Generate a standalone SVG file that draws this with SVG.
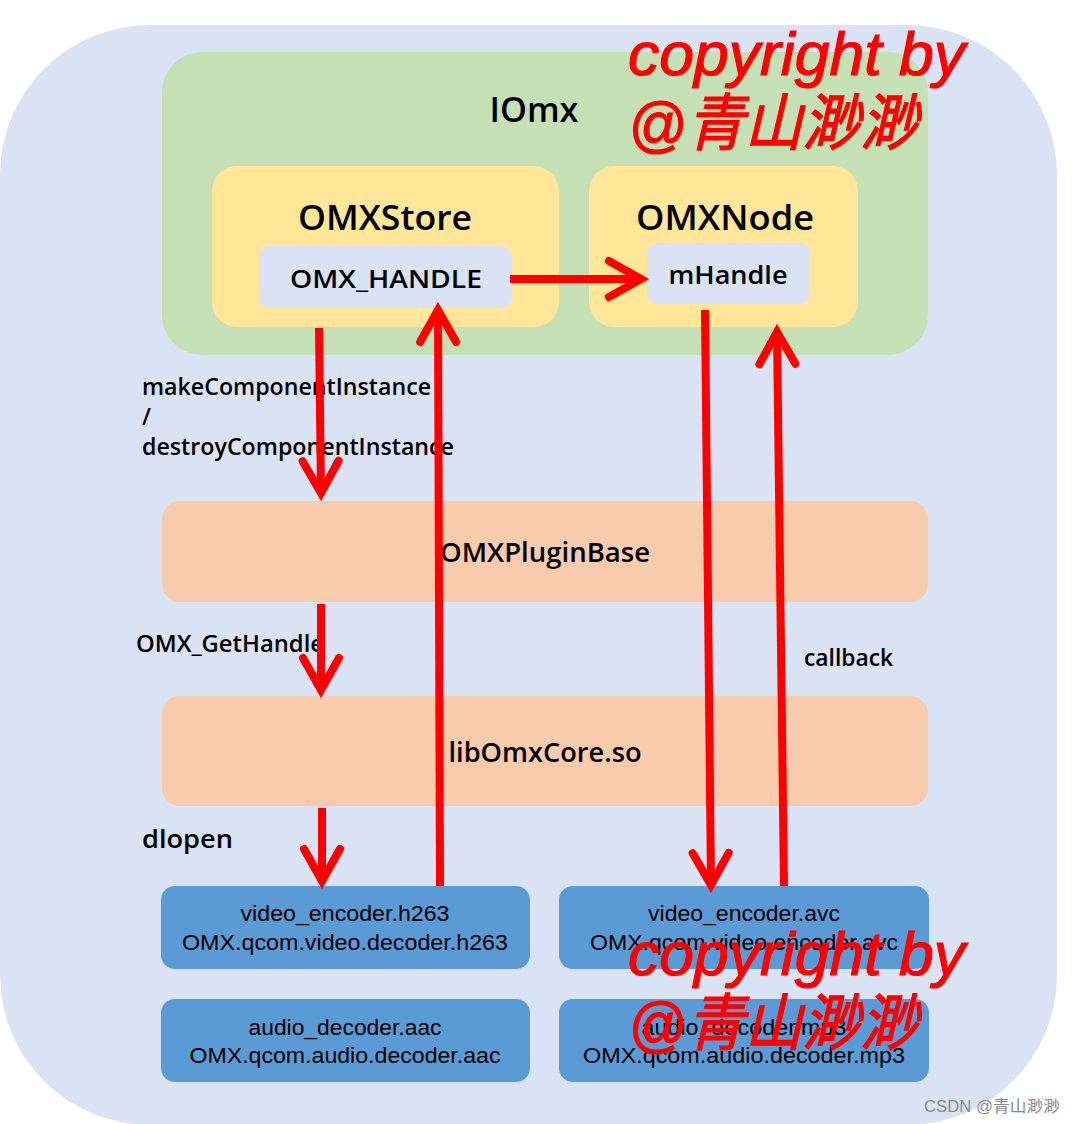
<svg xmlns="http://www.w3.org/2000/svg" width="1075" height="1124" viewBox="0 0 1075 1124">
<defs>
<style>
.t{font-family:"Open Sans","Noto Sans","Liberation Sans",sans-serif;font-weight:600;fill:#000}
.n{font-family:"Liberation Sans","Arial",sans-serif;fill:#000;font-size:22px}
.wm{font-family:"Liberation Sans","Noto Sans CJK SC",sans-serif;font-style:italic;fill:#ff0000;stroke:#ff0000;stroke-width:1.2;font-size:62px}
.ar{stroke:#ff0000;stroke-width:8;fill:none;marker-end:url(#ah)}
.blue{fill:#5b9bd5}
.peach{fill:#f8cbad}
.yel{fill:#ffe699}
.lav{fill:#dae3f3}
</style>
<marker id="ah" markerUnits="userSpaceOnUse" orient="auto" markerWidth="60" markerHeight="60" refX="0" refY="0" viewBox="-40 -30 60 60" overflow="visible">
<path d="M-32,-18 L0,0 L-32,18" fill="none" stroke="#ff0000" stroke-width="8" stroke-linecap="round" stroke-linejoin="miter"/>
</marker>
</defs>
<rect width="1075" height="1124" fill="#ffffff"/>
<rect id="outer" x="0" y="25" width="1057" height="1100" rx="150" ry="150" fill="#dae3f3"/>
<g id="IOmx">
<rect x="162" y="52" width="766" height="303" rx="40" fill="#c5e0b4"/>
<text class="t" x="534" y="122" font-size="34" text-anchor="middle" textLength="89" lengthAdjust="spacingAndGlyphs">IOmx</text>
</g>
<g id="OMXStore">
<rect class="yel" x="212" y="166" width="347" height="161" rx="25"/>
<text class="t" x="385" y="230" font-size="34" text-anchor="middle" textLength="174" lengthAdjust="spacingAndGlyphs">OMXStore</text>
</g>
<g id="OMX_HANDLE">
<rect class="lav" x="259" y="246" width="253" height="62" rx="10"/>
<text class="t" x="386" y="288" font-size="26" text-anchor="middle" textLength="192" lengthAdjust="spacingAndGlyphs">OMX_HANDLE</text>
</g>
<g id="OMXNode">
<rect class="yel" x="589" y="166" width="269" height="161" rx="25"/>
<text class="t" x="725" y="230" font-size="34" text-anchor="middle" textLength="178" lengthAdjust="spacingAndGlyphs">OMXNode</text>
</g>
<g id="mHandle">
<rect class="lav" x="647" y="243" width="163" height="61" rx="10"/>
<text class="t" x="728" y="284" font-size="26" text-anchor="middle" textLength="119" lengthAdjust="spacingAndGlyphs">mHandle</text>
</g>
<g id="OMXPluginBase">
<rect class="peach" x="162" y="501" width="766" height="101" rx="18"/>
<text class="t" x="545" y="562" font-size="27" text-anchor="middle" textLength="210" lengthAdjust="spacingAndGlyphs">OMXPluginBase</text>
</g>
<g id="libOmxCore">
<rect class="peach" x="162" y="696" width="766" height="110" rx="18"/>
<text class="t" x="545" y="762" font-size="27" text-anchor="middle" textLength="193" lengthAdjust="spacingAndGlyphs">libOmxCore.so</text>
</g>
<g id="h263">
<rect class="blue" x="161" y="886" width="369" height="83" rx="14"/>
<text class="n" x="345" y="921" text-anchor="middle" textLength="209" lengthAdjust="spacingAndGlyphs">video_encoder.h263</text>
<text class="n" x="345" y="950" text-anchor="middle" textLength="326" lengthAdjust="spacingAndGlyphs">OMX.qcom.video.decoder.h263</text>
</g>
<g id="avc">
<rect class="blue" x="559" y="886" width="370" height="83" rx="14"/>
<text class="n" x="744" y="921" text-anchor="middle" textLength="192" lengthAdjust="spacingAndGlyphs">video_encoder.avc</text>
<text class="n" x="744" y="950" text-anchor="middle" textLength="308" lengthAdjust="spacingAndGlyphs">OMX.qcom.video.encoder.avc</text>
</g>
<g id="aac">
<rect class="blue" x="161" y="999" width="369" height="83" rx="14"/>
<text class="n" x="345" y="1035" text-anchor="middle" textLength="193" lengthAdjust="spacingAndGlyphs">audio_decoder.aac</text>
<text class="n" x="345" y="1063" text-anchor="middle" textLength="311" lengthAdjust="spacingAndGlyphs">OMX.qcom.audio.decoder.aac</text>
</g>
<g id="mp3">
<rect class="blue" x="559" y="999" width="370" height="83" rx="14"/>
<text class="n" x="744" y="1035" text-anchor="middle" textLength="205" lengthAdjust="spacingAndGlyphs">audio_decoder.mp3</text>
<text class="n" x="744" y="1063" text-anchor="middle" textLength="322" lengthAdjust="spacingAndGlyphs">OMX.qcom.audio.decoder.mp3</text>
</g>
<g id="labels">
<text class="t" x="142" y="395" font-size="23" textLength="289" lengthAdjust="spacingAndGlyphs">makeComponentInstance</text>
<text class="t" x="142" y="425" font-size="23">/</text>
<text class="t" x="142" y="455" font-size="23" textLength="312" lengthAdjust="spacingAndGlyphs">destroyComponentInstance</text>
<text class="t" x="136" y="652" font-size="23" textLength="188" lengthAdjust="spacingAndGlyphs">OMX_GetHandle</text>
<text class="t" x="804" y="666" font-size="23" textLength="89" lengthAdjust="spacingAndGlyphs">callback</text>
<text class="t" x="142" y="848" font-size="25" textLength="91" lengthAdjust="spacingAndGlyphs">dlopen</text>
</g>
<g id="connectors">
<path class="ar" d="M319,328 L321,493"/>
<path class="ar" d="M440,886 L438,310"/>
<path class="ar" d="M510,279 L641,279"/>
<path class="ar" d="M705,310 L711,885"/>
<path class="ar" d="M784,886 L777,332"/>
<path class="ar" d="M321,604 L321,690"/>
<path class="ar" d="M322,808 L322,881"/>
</g>
<g id="watermark">
<text class="wm" x="628" y="75" textLength="337" lengthAdjust="spacingAndGlyphs">copyright by</text>
<text class="wm" x="628" y="145" textLength="290" lengthAdjust="spacingAndGlyphs">@青山渺渺</text>
<text class="wm" x="628" y="975" textLength="337" lengthAdjust="spacingAndGlyphs">copyright by</text>
<text class="wm" x="628" y="1045" textLength="290" lengthAdjust="spacingAndGlyphs">@青山渺渺</text>
<text x="924" y="1112" font-family="'Liberation Sans','Noto Sans CJK SC',sans-serif" font-size="16" fill="#8a8a8a" textLength="136" lengthAdjust="spacingAndGlyphs">CSDN @青山渺渺</text>
</g>
</svg>
